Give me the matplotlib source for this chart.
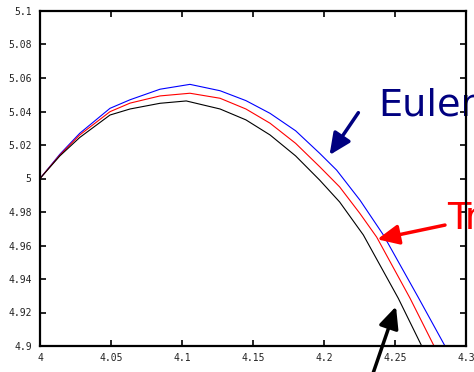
import matplotlib
matplotlib.use("Agg")
import matplotlib.pyplot as plt
from matplotlib.ticker import FuncFormatter

# Data
blue_x = [4.000, 4.014, 4.028, 4.0493, 4.0634, 4.0845, 4.1056, 4.1268, 4.145, 4.162, 4.180, 4.197, 4.2089, 4.2254, 4.2418, 4.2664, 4.2852]
blue_y = [5.000, 5.0145, 5.027, 5.0419, 5.0470, 5.0533, 5.0562, 5.0524, 5.0465, 5.0389, 5.0285, 5.015, 5.005, 4.987, 4.9663, 4.9290, 4.900]

red_x = [4.000, 4.014, 4.028, 4.0493, 4.0634, 4.0845, 4.1056, 4.1268, 4.145, 4.162, 4.180, 4.197, 4.211, 4.2254, 4.2371, 4.2606, 4.2775]
red_y = [5.000, 5.014, 5.026, 5.0399, 5.0450, 5.0493, 5.0509, 5.0479, 5.0415, 5.0330, 5.021, 5.007, 4.995, 4.979, 4.9650, 4.9285, 4.900]

black_x = [4.000, 4.014, 4.028, 4.0493, 4.0634, 4.0845, 4.103, 4.1268, 4.145, 4.162, 4.180, 4.197, 4.211, 4.2277, 4.2523, 4.2688]
black_y = [5.000, 5.0135, 5.0245, 5.0379, 5.0415, 5.0449, 5.0463, 5.0415, 5.0350, 5.026, 5.0135, 4.999, 4.986, 4.9663, 4.9285, 4.900]

x_ticks = [4.0, 4.05, 4.1, 4.15, 4.2, 4.25, 4.3]
y_ticks = [4.9, 4.92, 4.94, 4.96, 4.98, 5.0, 5.02, 5.04, 5.06, 5.08, 5.1]

fig = plt.figure(figsize=(4.74, 3.72), dpi=100)
ax = fig.add_axes([40/474, 26/372, 426/474, 335/372])

ax.plot(blue_x, blue_y, color="#0000ff", lw=0.8)
ax.plot(red_x, red_y, color="#ff0000", lw=0.8)
ax.plot(black_x, black_y, color="#000000", lw=0.8)

ax.set_xlim(4.0, 4.3)
ax.set_ylim(4.9, 5.1)
ax.set_xticks(x_ticks)
ax.set_yticks(y_ticks)
fmt = FuncFormatter(lambda v, p: "%g" % round(v, 4))
ax.xaxis.set_major_formatter(fmt)
ax.yaxis.set_major_formatter(fmt)
ax.tick_params(direction="in", length=4, width=1.2, top=True, right=True,
               labelsize=7, labelcolor="#222222")
ax.tick_params(axis="y", pad=6)
ax.tick_params(axis="x", pad=5)
for lab in ax.get_xticklabels() + ax.get_yticklabels():
    lab.set_family("DejaVu Sans Mono")
for s in ax.spines.values():
    s.set_linewidth(1.6)
    s.set_zorder(5)

# Annotations
ax.text(4.2385, 5.0379, "Euler", color="#000080", fontsize=27.5,
        family="DejaVu Sans", va="baseline", ha="left", clip_on=False, zorder=2)
ax.text(4.2866, 4.9699, "Tr", color="#ff0000", fontsize=27.5,
        family="DejaVu Sans", va="baseline", ha="left", clip_on=False, zorder=2)

arrow_style = "-|>,head_length=1.3,head_width=0.6"
ax.annotate("", xy=(4.2039, 5.0140), xytext=(4.2242, 5.0393),
            arrowprops=dict(arrowstyle=arrow_style, color="#000080", lw=2.5,
                            shrinkA=0, shrinkB=0), annotation_clip=False)
ax.annotate("", xy=(4.2375, 4.9637), xytext=(4.2852, 4.9722),
            arrowprops=dict(arrowstyle=arrow_style, color="#ff0000", lw=2.5,
                            shrinkA=0, shrinkB=0), annotation_clip=False)
ax.annotate("", xy=(4.2507, 4.9236), xytext=(4.2317, 4.8767),
            arrowprops=dict(arrowstyle=arrow_style, color="#000000", lw=2.5,
                            shrinkA=0, shrinkB=0), annotation_clip=False)

fig.savefig("out.png", dpi=100)
